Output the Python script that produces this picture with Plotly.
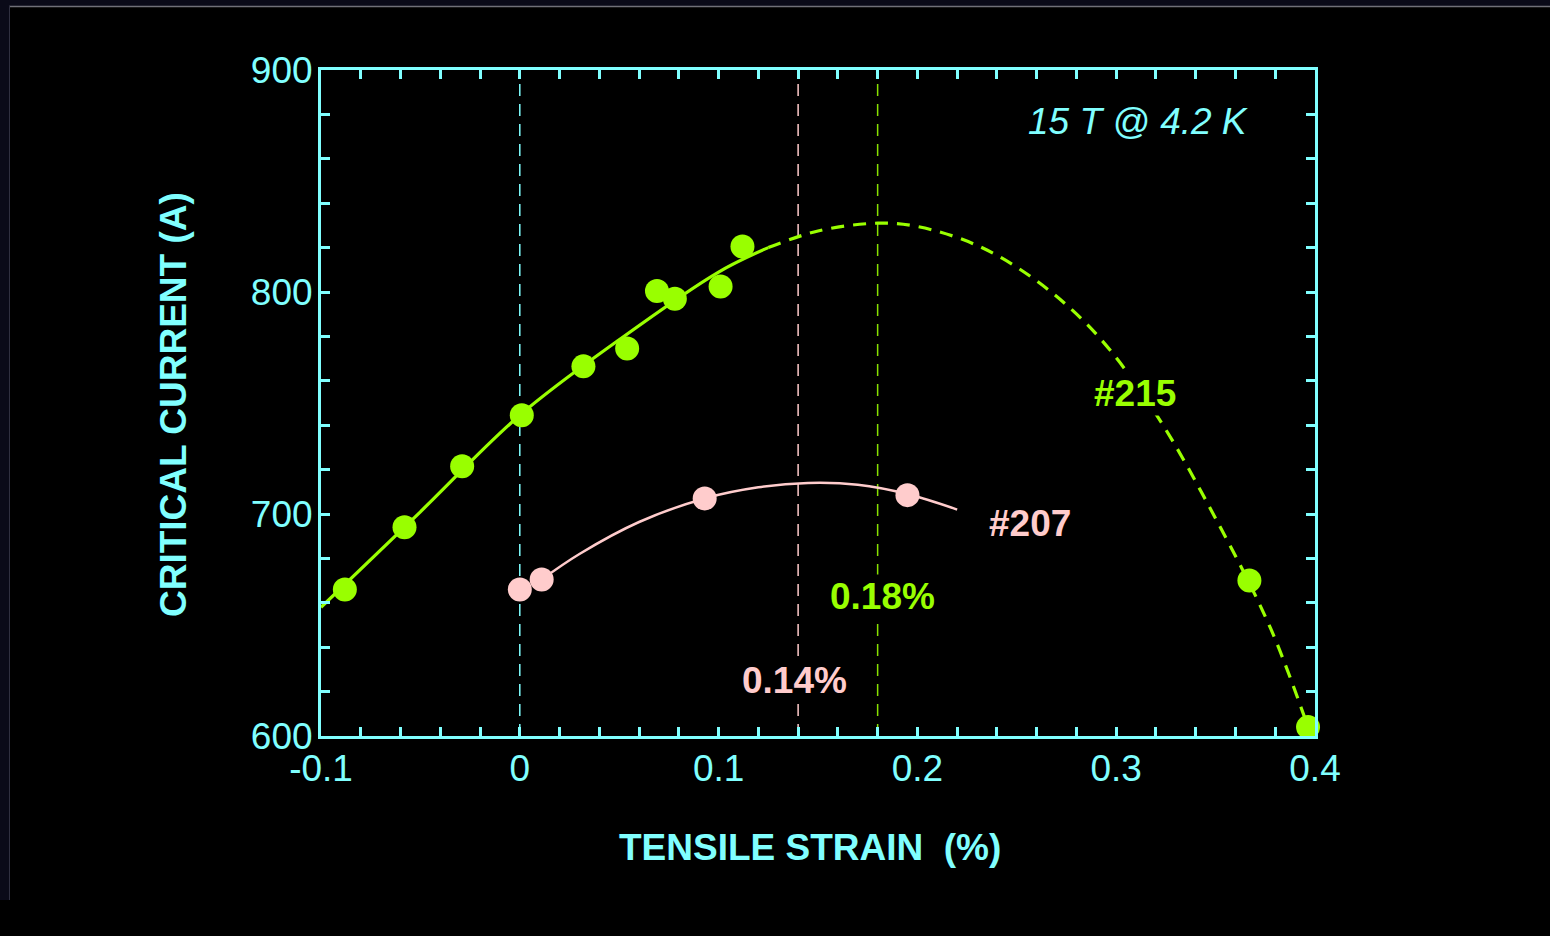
import plotly.graph_objects as go

# Measured critical current vs. tensile strain, 15 T at 4.2 K
strain_215 = [-0.088, -0.058, -0.029, 0.001, 0.032, 0.054, 0.069, 0.078, 0.101, 0.112, 0.367, 0.3965]
ic_215 = [666, 694, 721.5, 744.5, 766.5, 774.5, 800.5, 797, 802.5, 820.5, 670, 604]

strain_207 = [0.0, 0.011, 0.093, 0.195]
ic_207 = [666, 670.5, 707, 708.5]

# Fitted curves
fit_x_215 = [-0.1, -0.05, 0.0, 0.05, 0.1, 0.125, 0.15, 0.18, 0.2, 0.23, 0.26, 0.29, 0.32, 0.35, 0.3774, 0.3965]
fit_y_215 = [658, 701, 744.5, 778.5, 809, 820, 827.5, 831, 829.5, 821, 805, 781, 745, 698, 649, 604]
fit_split = 5  # solid up to the last measured point, dashed extrapolation beyond

fit_x_207 = [0.011, 0.03, 0.06, 0.093, 0.12, 0.145, 0.17, 0.195, 0.22]
fit_y_207 = [670.5, 682, 696.4, 707, 712, 714, 713.2, 709, 702]

# Peak strain markers
peak_207 = 0.14
peak_215 = 0.18

x_ticks = [-0.1, 0, 0.1, 0.2, 0.3, 0.4]
x_tick_text = ["-0.1", "0", "0.1", "0.2", "0.3", "0.4"]
y_ticks = [600, 700, 800, 900]
y_tick_text = ["600", "700", "800", "900"]

CYAN = "#80FFFF"
GREEN = "#99FF00"
PINK = "#FFCCCC"
FONT = "Arial, Liberation Sans, sans-serif"
FS = 37

fig = go.Figure()

fig.add_trace(go.Scatter(
    x=fit_x_215[:fit_split + 1], y=fit_y_215[:fit_split + 1], mode="lines",
    line=dict(color=GREEN, width=3.2, shape="spline"), hoverinfo="skip", showlegend=False))
fig.add_trace(go.Scatter(
    x=fit_x_215[fit_split:], y=fit_y_215[fit_split:], mode="lines",
    line=dict(color=GREEN, width=3.2, shape="spline", dash="13px,9px"), hoverinfo="skip", showlegend=False))
fig.add_trace(go.Scatter(
    x=fit_x_207, y=fit_y_207, mode="lines",
    line=dict(color=PINK, width=2.5, shape="spline"), hoverinfo="skip", showlegend=False))

fig.add_trace(go.Scatter(
    x=strain_215, y=ic_215, mode="markers", name="#215",
    marker=dict(color=GREEN, size=24, line=dict(width=0)), showlegend=False, cliponaxis=False))
fig.add_trace(go.Scatter(
    x=strain_207, y=ic_207, mode="markers", name="#207",
    marker=dict(color=PINK, size=24, line=dict(width=0)), showlegend=False, cliponaxis=False))

# Vertical dashed reference lines
for xv, col in [(0, CYAN), (peak_207, PINK), (peak_215, "#88E000")]:
    fig.add_shape(type="line", xref="x", yref="paper", x0=xv, x1=xv, y0=0, y1=1,
                  line=dict(color=col, width=1.5, dash="12px,8px"), layer="below")

# Frame decoration around the page edge
L, T, W, H = 321, 70, 994, 666
def px(x):
    return (x - L) / W
def py(y):
    return (T + H - y) / H
NAVY = "#0a0a18"
fig.add_shape(type="rect", xref="paper", yref="paper", x0=px(0), x1=px(9), y0=py(900), y1=py(0),
              fillcolor=NAVY, line=dict(width=0), layer="below")
fig.add_shape(type="rect", xref="paper", yref="paper", x0=px(0), x1=px(1550), y0=py(6), y1=py(0),
              fillcolor=NAVY, line=dict(width=0), layer="below")
fig.add_shape(type="line", xref="paper", yref="paper", x0=px(9), x1=px(1550), y0=py(6.5), y1=py(6.5),
              line=dict(color="#707078", width=1.5), layer="below")
fig.add_shape(type="line", xref="paper", yref="paper", x0=px(9.5), x1=px(9.5), y0=py(900), y1=py(6),
              line=dict(color="#303040", width=1), layer="below")

ann_font = dict(family=FONT, size=FS)
fig.add_annotation(x=0.311, y=877, xref="x", yref="y", text="<i>15 T @ 4.2 K</i>", showarrow=False,
                   font=dict(ann_font, color=CYAN))
fig.add_annotation(x=0.3095, y=754.5, xref="x", yref="y", text="<b>#215</b>", showarrow=False,
                   font=dict(ann_font, color=GREEN), bgcolor="black")
fig.add_annotation(x=0.2566, y=695.5, xref="x", yref="y", text="<b>#207</b>", showarrow=False,
                   font=dict(ann_font, color=PINK), bgcolor="black")
fig.add_annotation(x=0.1822, y=663, xref="x", yref="y", text="<b>0.18%</b>", showarrow=False,
                   font=dict(ann_font, color=GREEN), bgcolor="black")
fig.add_annotation(x=0.1384, y=625.2, xref="x", yref="y", text="<b>0.14%</b>", showarrow=False,
                   font=dict(ann_font, color=PINK), bgcolor="black")

# Axis titles
fig.add_annotation(x=px(810), y=py(847), xref="paper", yref="paper",
                   xanchor="center", yanchor="middle",
                   text="<b>TENSILE STRAIN\u00a0 (%)</b>", showarrow=False,
                   font=dict(ann_font, color=CYAN))
fig.add_annotation(x=px(173), y=py(405), xref="paper", yref="paper",
                   xanchor="center", yanchor="middle",
                   text="<b>CRITICAL CURRENT (A)</b>", showarrow=False, textangle=-90,
                   font=dict(ann_font, color=CYAN))

axis_common = dict(
    showgrid=False, zeroline=False, showline=True, linecolor=CYAN, linewidth=3,
    mirror="allticks", ticks="inside", ticklen=9, tickwidth=2.5, tickcolor=CYAN,
    tickfont=dict(family=FONT, size=FS, color=CYAN),
)

fig.update_xaxes(
    range=[-0.1, 0.4], tickmode="array", tickvals=x_ticks, ticktext=x_tick_text,
    minor=dict(dtick=0.02, tick0=0, ticks="inside", ticklen=9, tickwidth=2.5, tickcolor=CYAN, showgrid=False),
    ticklabelstandoff=-2, **axis_common)
fig.update_yaxes(
    range=[600, 900], tickmode="array", tickvals=y_ticks, ticktext=y_tick_text,
    minor=dict(dtick=20, tick0=600, ticks="inside", ticklen=9, tickwidth=2.5, tickcolor=CYAN, showgrid=False),
    ticklabelstandoff=-2, **axis_common)

fig.update_layout(
    width=1550, height=936,
    margin=dict(l=L, r=1550 - L - W, t=T, b=936 - T - H),
    paper_bgcolor="black", plot_bgcolor="black",
    showlegend=False,
)

fig.write_html("out.html")
